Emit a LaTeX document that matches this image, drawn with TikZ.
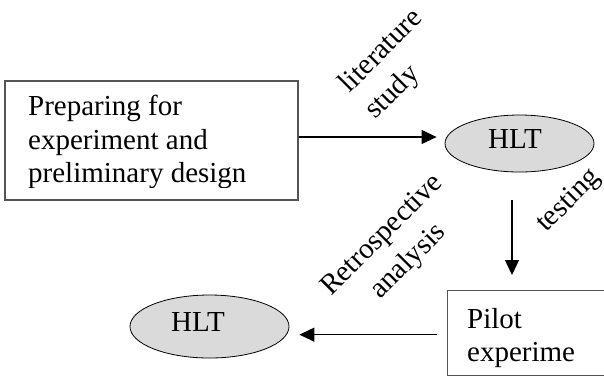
\documentclass[tikz,border=0pt]{standalone}
\usepackage{fontspec}
\setmainfont{Liberation Serif}
\usetikzlibrary{shapes.geometric,arrows.meta}
\definecolor{frame}{HTML}{555555}
\definecolor{ovalfill}{HTML}{DADADA}
\tikzset{
  boxd/.style={draw=frame, line width=1.3pt, inner sep=0pt},
  oval/.style={ellipse, draw=black, line width=0.8pt, fill=ovalfill, inner sep=0pt},
  arr/.style={draw=black, line width=1.2pt, -{Triangle[length=15pt,width=14pt]}},
  lab/.style={text=black, font=\fontsize{29}{33.5}\selectfont, inner sep=0pt},
  rlab/.style={lab, font=\fontsize{29}{37}\selectfont, rotate=45},
}
\begin{document}
\begin{tikzpicture}[x=1pt,y=-1pt]
  \useasboundingbox (0,0) rectangle (604,376);
  % boxes
  \node[boxd, minimum width=293pt, minimum height=119pt] (prep) at (151.5,140.5) {};
  \begin{scope}
    \clip (5,81) rectangle (298,187.5);
    \node[lab, align=left, anchor=base west] (preptext) at (28,182.5) {Preparing for\\experiment and\\preliminary design};
  \end{scope}
  \node[boxd, minimum width=200pt, minimum height=85pt, anchor=north west] (pilot) at (447,290) {};
  \node[lab, align=left, anchor=base west] (pilottext) at (467,361.7) {Pilot\\experime};
  % ovals
  \node[oval, minimum width=149pt, minimum height=57pt] (hlta) at (519.5,143.5) {};
  \node[lab] (hltatext) at (515,138.5) {HLT};
  \node[oval, minimum width=159pt, minimum height=63pt] (hltb) at (209.5,326.5) {};
  \node[lab] (hltbtext) at (198,322) {HLT};
  % arrows
  \draw[arr, shorten >=8pt] ([yshift=3.5pt]prep.east) -- ([yshift=3.5pt]prep.east -| hlta.west);
  \draw[arr, shorten <=28pt, shorten >=15pt] ([xshift=-7.5pt]hlta.south) -- ([xshift=-7.5pt]hlta.south |- pilot.north);
  \draw[arr, shorten <=10pt, shorten >=10pt] ([yshift=-1.5pt]pilot.west) -- ([yshift=-1.5pt]pilot.west -| hltb.east);
  % labels
  \node[rlab, align=left] (litlab) at (395,65) {literature\\study};
  \node[rlab, align=center] (retrolab) at (396,249) {Retrospective\\analysis};
  \node[rlab] (testlab) at (569,201) {testing};
\end{tikzpicture}
\end{document}
